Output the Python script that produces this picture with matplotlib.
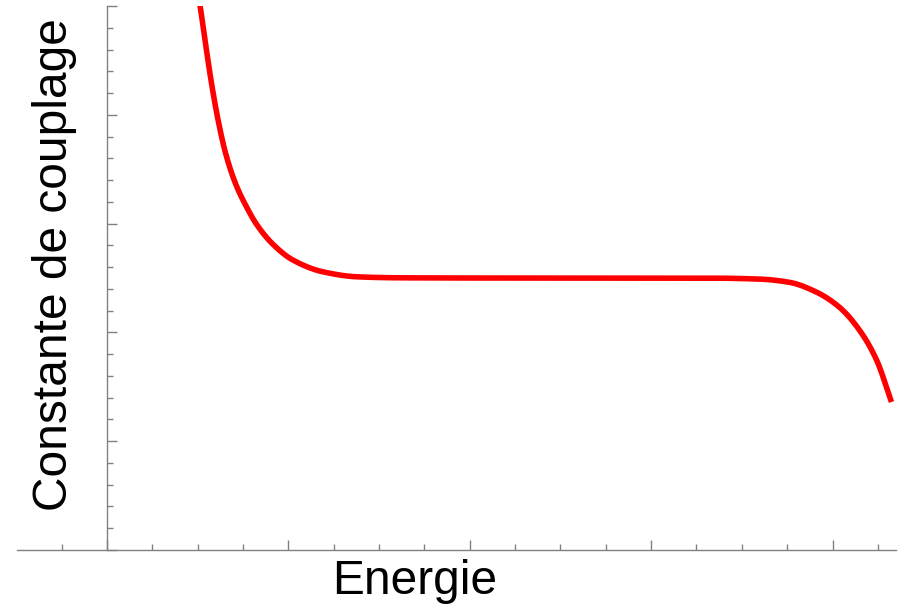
import numpy as np
import matplotlib.pyplot as plt
from matplotlib.ticker import MultipleLocator

# points (energie, constante de couplage)
energie = [0.50, 0.512, 0.540, 0.573, 0.612, 0.656, 0.711, 0.766, 0.826, 0.915,
           1.025, 1.190, 1.377, 1.598, 2.0, 2.716, 3.267, 3.598, 3.763, 3.912,
           4.039, 4.149, 4.242, 4.325]
couplage = [5.12, 5.014, 4.692, 4.324, 3.956, 3.634, 3.358, 3.164, 2.990, 2.810,
            2.665, 2.557, 2.511, 2.502, 2.50, 2.50, 2.50, 2.49, 2.46, 2.37,
            2.23, 2.02, 1.75, 1.36]

x_label = "Energie"
y_label = "Constante de couplage"


def pchip(x, y, xn):
    # monotone cubic interpolation (Fritsch-Carlson)
    x = np.asarray(x, float)
    y = np.asarray(y, float)
    h = np.diff(x)
    d = np.diff(y) / h
    m = np.zeros_like(y)
    for i in range(1, len(x) - 1):
        if d[i - 1] * d[i] <= 0:
            m[i] = 0
        else:
            w1 = 2 * h[i] + h[i - 1]
            w2 = h[i] + 2 * h[i - 1]
            m[i] = (w1 + w2) / (w1 / d[i - 1] + w2 / d[i])
    m[0] = d[0]
    m[-1] = d[-1]
    idx = np.clip(np.searchsorted(x, xn) - 1, 0, len(x) - 2)
    t = (xn - x[idx]) / h[idx]
    h00 = 2 * t**3 - 3 * t**2 + 1
    h10 = t**3 - 2 * t**2 + t
    h01 = -2 * t**3 + 3 * t**2
    h11 = t**3 - t**2
    return h00 * y[idx] + h10 * h[idx] * m[idx] + h01 * y[idx + 1] + h11 * h[idx] * m[idx + 1]


plt.rcParams['font.family'] = ['Liberation Sans', 'DejaVu Sans']

fig = plt.figure(figsize=(9.06, 6.09), dpi=100)
W, H = 906, 609
ax = fig.add_axes([17 / W, 1 - 550 / H, (896 - 17) / W, (550 - 6) / H])

xs = np.linspace(energie[0], energie[-1], 800)
ys = pchip(energie, couplage, xs)
ax.plot(xs, ys, color='#ff0000', lw=4.0, solid_capstyle='butt')

ax.set_xlim(-0.496, 4.35)
ax.set_ylim(0, 5.0)

for s in ['top', 'right']:
    ax.spines[s].set_visible(False)
ax.spines['left'].set_position(('data', 0))
ax.spines['bottom'].set_position(('data', 0))
for s in ['left', 'bottom']:
    ax.spines[s].set_color('#808080')
    ax.spines[s].set_linewidth(1.0)

ax.xaxis.set_major_locator(MultipleLocator(1))
ax.xaxis.set_minor_locator(MultipleLocator(0.25))
ax.yaxis.set_major_locator(MultipleLocator(1))
ax.yaxis.set_minor_locator(MultipleLocator(0.2))
ax.tick_params(which='both', direction='in', color='#808080', width=1.0,
               labelbottom=False, labelleft=False)
ax.tick_params(which='major', length=7)
ax.tick_params(which='minor', length=4)

fig.text(415 / W, 1 - 582 / H, x_label, ha='center', va='center', fontsize=34.5)
fig.text(55 / W, 1 - 265 / H, y_label, ha='center', va='center',
         rotation=90, fontsize=34.5)

fig.savefig('out.png', dpi=100)
